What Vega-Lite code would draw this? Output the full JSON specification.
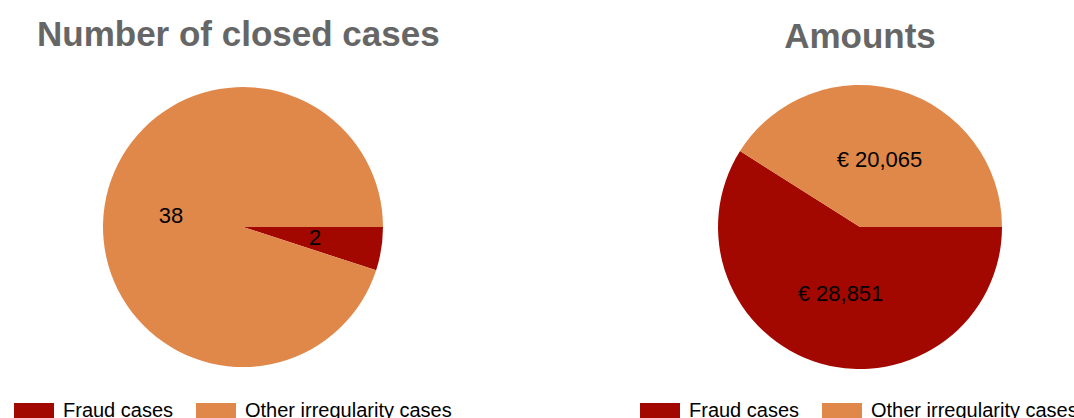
{
  "$schema": "https://vega.github.io/schema/vega-lite/v6.json",
  "autosize": {"type": "none"},
  "padding": {"left": 0, "top": 36, "right": 0, "bottom": 0},
  "params": [{"name": "width", "value": 1074}, {"name": "height", "value": 382}],
  "background": "white",
  "spacing": 160,
  "bounds": "flush",
  "resolve": {"scale": {"color": "independent", "theta": "independent"}},
  "config": {
    "view": {"stroke": null},
    "title": {"font": "Liberation Sans", "fontSize": 35, "fontWeight": "bold", "color": "#666666", "baseline": "alphabetic"},
    "legend": {
      "padding": 0,
      "symbolType": "M-1,-0.4L1,-0.4L1,0.4L-1,0.4Z",
      "symbolSize": 1600,
      "symbolStrokeWidth": 0,
      "symbolOpacity": 1,
      "labelFont": "Liberation Sans",
      "labelFontSize": 20,
      "labelColor": "#000000",
      "labelOffset": 9,
      "columnPadding": 22,
      "labelLimit": 400
    }
  },
  "hconcat": [
    {
      "width": 486,
      "height": 382,
      "title": {"text": "Number of closed cases", "anchor": "start", "dx": 37, "offset": -17},
      "data": {"values": [
        {"type": "Fraud cases", "value": 2, "label": "2"},
        {"type": "Other irregularity cases", "value": 38, "label": "38"}
      ]},
      "encoding": {
        "theta": {"field": "value", "type": "quantitative", "stack": true, "scale": {"range": [1.5708, 7.854]}},
        "order": {"field": "type", "type": "nominal"},
        "color": {
          "field": "type", "type": "nominal",
          "scale": {"domain": ["Fraud cases", "Other irregularity cases"], "range": ["#A30800", "#E0884A"]},
          "legend": {"orient": "none", "legendX": 14, "legendY": 355, "direction": "horizontal", "title": null}
        }
      },
      "layer": [
        {"mark": {"type": "arc", "outerRadius": 140}},
        {"mark": {"type": "text", "radius": 73, "font": "Liberation Sans", "fontSize": 22, "fill": "#000000", "align": "center", "baseline": "middle"},
         "encoding": {"text": {"field": "label", "type": "nominal"}, "color": {"value": "#000000"}}}
      ]
    },
    {
      "width": 428,
      "height": 382,
      "title": {"text": "Amounts", "anchor": "middle", "offset": -19},
      "data": {"values": [
        {"type": "Fraud cases", "value": 28851, "label": "€ 28,851"},
        {"type": "Other irregularity cases", "value": 20065, "label": "€ 20,065"}
      ]},
      "encoding": {
        "theta": {"field": "value", "type": "quantitative", "stack": true, "scale": {"range": [1.5708, 7.854]}},
        "order": {"field": "type", "type": "nominal"},
        "color": {
          "field": "type", "type": "nominal",
          "scale": {"domain": ["Fraud cases", "Other irregularity cases"], "range": ["#A30800", "#E0884A"]},
          "legend": {"orient": "none", "legendX": -6, "legendY": 355, "direction": "horizontal", "title": null}
        }
      },
      "layer": [
        {"mark": {"type": "arc", "outerRadius": 142}},
        {"mark": {"type": "text", "radius": 70, "font": "Liberation Sans", "fontSize": 22, "fill": "#000000", "align": "center", "baseline": "middle"},
         "encoding": {"text": {"field": "label", "type": "nominal"}, "color": {"value": "#000000"}}}
      ]
    }
  ]
}
